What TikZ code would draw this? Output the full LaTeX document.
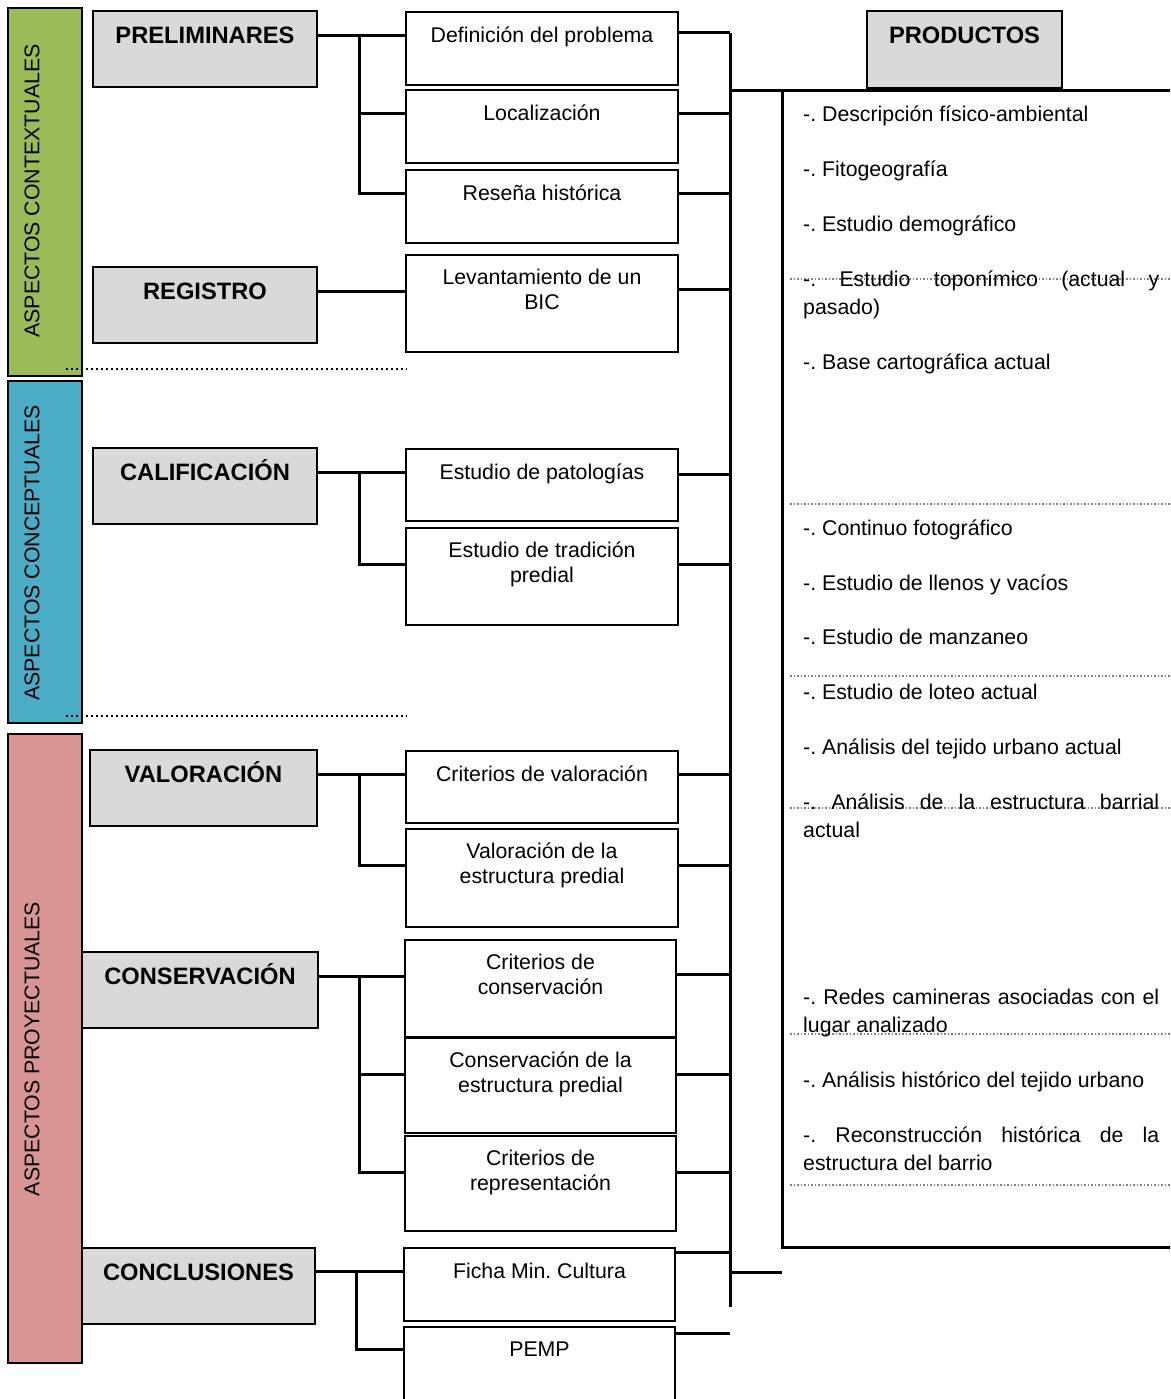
\documentclass[tikz,border=0pt]{standalone}
\usepackage{fontspec}
\setmainfont{Liberation Sans}
\usetikzlibrary{positioning,calc}

\definecolor{ctxgreen}{HTML}{9BBB59}
\definecolor{cptblue}{HTML}{4BACC6}
\definecolor{pryred}{HTML}{D99594}
\definecolor{boxgray}{HTML}{D9D9D9}

\frenchspacing

\tikzset{
  aspbar/.style={draw, line width=2pt, minimum width=74pt},
  barlabel/.style={rotate=90, font=\fontsize{21.3}{25}\selectfont, inner sep=0pt},
  graybox/.style={draw, fill=boxgray, line width=2pt, minimum width=224pt, minimum height=76pt},
  graytxt/.style={font=\bfseries\fontsize{23.7}{28}\selectfont, inner sep=0pt, text height=17pt, text depth=0pt},
  whitebox/.style={draw, line width=2.2pt, minimum width=272pt},
  whitetxt/.style={font=\fontsize{21.3}{25}\selectfont, align=center, inner sep=0pt},
  conn/.style={line width=3pt},
  prod/.style={font=\fontsize{21.3}{28}\selectfont, anchor=base west, text width=356pt, align=justify, inner sep=0pt},
  blocksep/.style={line width=2.5pt, dash pattern=on 2pt off 3pt},
  prodline/.style={gray, line width=1.5pt, dash pattern=on 1.5pt off 2pt}
}

\begin{document}
\begin{tikzpicture}[x=1pt,y=-1pt]
\useasboundingbox (0,0) rectangle (1170,1399);
\clip (0,0) rectangle (1170,1399);
\fill[white] (0,0) rectangle (1170,1399);

% bars
\node[aspbar, fill=ctxgreen, minimum height=368pt] (ctx) at (45,192) {};
\node[barlabel] (ctxlab) at (32,191) {ASPECTOS CONTEXTUALES};
\node[aspbar, fill=cptblue, minimum height=342pt] (cpt) at (45,552) {};
\node[barlabel] (cptlab) at (32,553) {ASPECTOS CONCEPTUALES};
\node[aspbar, fill=pryred, minimum height=629pt] (pry) at (45,1048.5) {};
\node[barlabel] (prylab) at (32,1049) {ASPECTOS PROYECTUALES};

\draw[blocksep] (66,369) -- (407,369);
\draw[blocksep] (66,716) -- (407,716);

% gray boxes
\node[graybox] (prel) at (205,49) {};
\node[graytxt, below=16.5pt of prel.north] (preltxt) {PRELIMINARES};
\node[graybox] (regi) at (205,305) {};
\node[graytxt, below=16.5pt of regi.north] (regitxt) {REGISTRO};
\node[graybox] (cali) at (205,486) {};
\node[graytxt, below=16.5pt of cali.north] (calitxt) {CALIFICACIÓN};
\node[graybox, minimum width=227pt] (valo) at (203.5,788) {};
\node[graytxt, below=16.5pt of valo.north] (valotxt) {VALORACIÓN};
\node[graybox, minimum width=236pt] (cons) at (200,990) {};
\node[graytxt, below=16.5pt of cons.north] (constxt) {CONSERVACIÓN};
\node[graybox, minimum width=233pt] (conc) at (198.5,1285.5) {};
\node[graytxt, below=16.5pt of conc.north] (conctxt) {CONCLUSIONES};
\node[graybox, minimum width=195pt, minimum height=77pt] (prod) at (964.5,49.5) {};
\node[graytxt, below=16.5pt of prod.north] (prodtxt) {PRODUCTOS};

% white boxes
\node[whitebox, minimum height=73pt] (def) at (542,48.5) {};
\node[whitetxt, below=16pt of def.north] (deftxt) {Definición del problema};
\node[whitebox, minimum height=73pt] (loc) at (542,126.5) {};
\node[whitetxt, below=16pt of loc.north] (loctxt) {Localización};
\node[whitebox, minimum height=73pt] (res) at (542,206.5) {};
\node[whitetxt, below=16pt of res.north] (restxt) {Reseña histórica};
\node[whitebox, minimum height=97pt] (lev) at (542,303.5) {};
\node[whitetxt, below=15pt of lev.north] (levtxt) {Levantamiento de un\\BIC};
\node[whitebox, minimum height=72pt] (pat) at (542,485) {};
\node[whitetxt, below=16pt of pat.north] (pattxt) {Estudio de patologías};
\node[whitebox, minimum height=97pt] (tra) at (542,576.5) {};
\node[whitetxt, below=15pt of tra.north] (tratxt) {Estudio de tradición\\predial};
\node[whitebox, minimum height=72pt] (cva) at (542,787) {};
\node[whitetxt, below=16pt of cva.north] (cvatxt) {Criterios de valoración};
\node[whitebox, minimum height=98pt] (vae) at (542,878) {};
\node[whitetxt, below=15pt of vae.north] (vaetxt) {Valoración de la\\estructura predial};
\node[whitebox, minimum width=271pt, minimum height=97pt] (ccs) at (540.5,988.5) {};
\node[whitetxt, below=15pt of ccs.north] (ccstxt) {Criterios de\\conservación};
\node[whitebox, minimum width=271pt, minimum height=95pt] (ces) at (540.5,1085.5) {};
\node[whitetxt, below=15pt of ces.north] (cestxt) {Conservación de la\\estructura predial};
\node[whitebox, minimum width=271pt, minimum height=95pt] (crp) at (540.5,1183.5) {};
\node[whitetxt, below=15pt of crp.north] (crptxt) {Criterios de\\representación};
\node[whitebox, minimum width=271pt, minimum height=73pt] (fic) at (539.5,1284.5) {};
\node[whitetxt, below=16pt of fic.north] (fictxt) {Ficha Min. Cultura};
\node[whitebox, minimum width=271pt, minimum height=90pt] (pemp) at (539.5,1372) {};
\node[whitetxt, below=16pt of pemp.north] (pemptxt) {PEMP};

% left connectors
\coordinate (pj) at (359,0);
\draw[conn] (prel.east |- preltxt) -- (def.west |- preltxt);
\draw[conn] (pj |- preltxt) |- (loc.west |- loctxt);
\draw[conn] (pj |- preltxt) |- (res.west |- restxt);
\draw[conn] (regi.east |- regitxt) -- (lev.west |- regitxt);
\draw[conn] (cali.east |- calitxt) -- (pat.west |- calitxt);
\draw[conn] (pj |- calitxt) |- (tra.west |- tratxt);
\draw[conn] (valo.east |- valotxt) -- (cva.west |- valotxt);
\draw[conn] (pj |- valotxt) |- (vae.west |- vaetxt);
\draw[conn] (cons.east |- constxt) -- (ccs.west |- constxt);
\draw[conn] (pj |- constxt) |- (ces.west |- cestxt);
\draw[conn] (pj |- constxt) |- (crp.west |- crptxt);
\coordinate (cj) at (356,0);
\draw[conn] (conc.east |- conctxt) -- (fic.west |- conctxt);
\draw[conn] (cj |- conctxt) |- (pemp.west |- pemptxt);

% bus to products
\coordinate (bus) at (730,33);
\coordinate (busend) at (730,1307);
\coordinate (pnw) at (782,91);
\coordinate (pse) at (1175,1247);
\coordinate (ficr) at ([yshift=-6pt]fic.north east);
\coordinate (pempr) at ([yshift=-8pt]pemp.north east);
\draw[conn] (bus) -- (busend);
\draw[conn] (def.east |- bus) -- (bus);
\foreach \b in {loc,res,lev,pat,tra,cva,vae,ccs,ces,crp}
  \draw[conn] (\b.east |- \b txt) -- (bus |- \b txt);
\draw[conn] (ficr) -- (bus |- ficr);
\draw[conn] (pempr) -- (bus |- pempr);
\draw[conn] (bus |- pnw) -- (pse |- pnw);
\draw[conn] (pnw) -- (pnw |- pse) -- (pse);
\draw[conn] (bus |- 0,1272) -- (pnw |- 0,1272);
\draw[line width=2pt] (prod.south) -- (prod.south |- pnw);

% products list
\draw[prodline] (790,279) -- (1170,279);
\draw[prodline] (790,504) -- (1170,504);
\draw[prodline] (790,676) -- (1170,676);
\draw[prodline] (790,808) -- (1170,808);
\draw[prodline] (790,1034) -- (1170,1034);
\draw[prodline] (790,1185) -- (1170,1185);
\node[prod] (p1) at (803,121.5) {-. Descripción físico-ambiental};
\node[prod] (p2) at (803,176.5) {-. Fitogeografía};
\node[prod] (p3) at (803,231.5) {-. Estudio demográfico};
\node[prod] (p4) at (803,286.5) {-. Estudio toponímico (actual y\linebreak pasado)};
\node[prod] (p5) at (803,369.5) {-. Base cartográfica actual};
\node[prod] (p6) at (803,535.5) {-. Continuo fotográfico};
\node[prod] (p7) at (803,590.5) {-. Estudio de llenos y vacíos};
\node[prod] (p8) at (803,644.5) {-. Estudio de manzaneo};
\node[prod] (p9) at (803,699.5) {-. Estudio de loteo actual};
\node[prod] (p10) at (803,754.5) {-. Análisis del tejido urbano actual};
\node[prod] (p11) at (803,809.5) {-. Análisis de la estructura barrial\linebreak actual};
\node[prod] (p12) at (803,1004.5) {-. Redes camineras asociadas con el\linebreak lugar analizado};
\node[prod] (p13) at (803,1087.5) {-. Análisis histórico del tejido urbano};
\node[prod] (p14) at (803,1142.5) {-. Reconstrucción histórica de la\linebreak estructura del barrio};
\end{tikzpicture}
\end{document}
